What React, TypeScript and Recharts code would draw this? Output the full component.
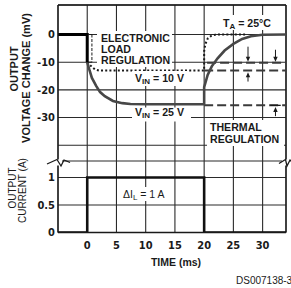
import React from "react"
import { LineChart, Line, XAxis, YAxis, CartesianGrid, ReferenceLine } from "recharts"

// time axis (ms)
const TIME_TICKS = [0, 5, 10, 15, 20, 25, 30]
const MV_TICKS = [-40, -30, -20, -10, 0]
const AMP_TICKS = [0, 0.5, 1]

// output voltage change (mV)
const stepT = [-5, 0, 0]
const stepV = [0, 0, -10]

const vin25T = [0, 0.4, 0.8, 1.5, 2.2, 3, 4.4, 6, 7.4, 10, 20, 20, 20.6, 21.3, 22.3, 23.5, 25, 26.5, 28, 30, 34]
const vin25V = [-10, -13, -15.7, -18.5, -20.8, -22.3, -24, -24.8, -25.1, -25.2, -25.2, -19, -14.6, -11.5, -8.6, -5.8, -3.4, -1.6, -0.6, -0.1, 0]

const vin10T = [0, 0.7, 1.3, 2, 20, 20, 20.2, 20.6, 21.2, 22, 27]
const vin10V = [-10, -11.5, -12.6, -13, -13, -6, -3.5, -1.5, -0.5, 0, 0]

const thermUpT = [20.5, 34]
const thermUpV = [-10.2, -10.2]
const thermMidT = [20, 34]
const thermMidV = [-13, -13]
const thermLowT = [20, 34]
const thermLowV = [-25.6, -25.6]

// output current (A)
const curT = [-5, 0, 0, 20, 20, 34]
const curA = [0, 0, 1, 1, 0, 0]

const zip = (t: number[], v: number[]) => t.map((x, i) => ({ t: x, v: v[i] }))

const X_MIN = -5
const X_MAX = 34
const TOP_MIN = -45.7
const TOP_MAX = 10.66
const BOT_MAX = 1.3

const W = 291
const PLOT_L = 58
const PLOT_R = 286
const TOP_Y0 = 5
const TOP_Y1 = 161
const BOT_Y1 = 232.5

const px = (t: number) => PLOT_L + ((t - X_MIN) / (X_MAX - X_MIN)) * (PLOT_R - PLOT_L)
const py = (v: number) => TOP_Y0 + ((TOP_MAX - v) / (TOP_MAX - TOP_MIN)) * (TOP_Y1 - TOP_Y0)

const INK = "#1a1a1a"
const GRID = "#2a2a2a"
const FONT_LABEL = "'Liberation Sans', Arial, sans-serif"
const FONT_TICK = "'Liberation Sans Narrow', 'DejaVu Sans Condensed', 'Liberation Sans', sans-serif"

const tickStyle = { fontFamily: FONT_TICK, fontSize: 11, fontWeight: 700, fill: INK }

function Arrow({ x, from, to }: { x: number; from: number; to: number }) {
  const dir = to > from ? 1 : -1
  return (
    <g>
      <line x1={x} y1={from} x2={x} y2={to - dir * 3} stroke={INK} strokeWidth={1} />
      <path d={`M${x - 2.2},${to - dir * 5} L${x + 2.2},${to - dir * 5} L${x},${to} Z`} fill={INK} />
    </g>
  )
}

export default function App() {
  const labelProps = { fontFamily: FONT_LABEL, fontWeight: 700, fontSize: 10.6, fill: INK }
  return (
    <div style={{ position: "absolute", left: 0, top: 0, width: W, height: 288, background: "#fff", overflow: "hidden" }}>
      <div style={{ position: "absolute", left: 0, top: 0 }}>
        <LineChart width={W} height={TOP_Y1} margin={{ top: TOP_Y0, right: W - PLOT_R, bottom: 0, left: 0 }}>
          <CartesianGrid stroke={GRID} strokeWidth={1.1} />
          <XAxis type="number" dataKey="t" domain={[X_MIN, X_MAX]} ticks={TIME_TICKS} allowDataOverflow hide />
          <YAxis
            type="number"
            domain={[TOP_MIN, TOP_MAX]}
            ticks={MV_TICKS}
            allowDataOverflow
            width={PLOT_L}
            tickLine={false}
            tickSize={0}
            tickMargin={3}
            axisLine={{ stroke: INK, strokeWidth: 1.3 }}
            tick={tickStyle}
            tickFormatter={(v: number) => (v === -40 ? "" : String(v))}
          />
          <ReferenceLine y={TOP_MAX} stroke={INK} strokeWidth={1.3} />
          <ReferenceLine x={X_MAX} stroke={INK} strokeWidth={1.3} />
          <Line data={zip(thermUpT, thermUpV)} dataKey="v" type="linear" stroke="#3a3a3a" strokeWidth={2} strokeDasharray="9 4" dot={false} isAnimationActive={false} />
          <Line data={zip(thermMidT, thermMidV)} dataKey="v" type="linear" stroke="#3a3a3a" strokeWidth={2} strokeDasharray="9 4" dot={false} isAnimationActive={false} />
          <Line data={zip(thermLowT, thermLowV)} dataKey="v" type="linear" stroke="#3a3a3a" strokeWidth={2} strokeDasharray="9 4" dot={false} isAnimationActive={false} />
          <Line data={zip(vin10T, vin10V)} dataKey="v" type="linear" stroke={INK} strokeWidth={2} strokeDasharray="2 2.2" dot={false} isAnimationActive={false} />
          <Line data={zip(vin25T, vin25V)} dataKey="v" type="linear" stroke="#474747" strokeWidth={2.6} dot={false} isAnimationActive={false} />
          <Line data={zip(stepT, stepV)} dataKey="v" type="linear" stroke="#000" strokeWidth={3} dot={false} isAnimationActive={false} />
        </LineChart>
      </div>
      <div style={{ position: "absolute", left: 0, top: TOP_Y1 }}>
        <LineChart width={W} height={288 - TOP_Y1} margin={{ top: 0, right: W - PLOT_R, bottom: 288 - TOP_Y1 - (BOT_Y1 - TOP_Y1) - 30, left: 0 }}>
          <CartesianGrid stroke={GRID} strokeWidth={1.1} />
          <XAxis
            type="number"
            dataKey="t"
            domain={[X_MIN, X_MAX]}
            ticks={TIME_TICKS}
            allowDataOverflow
            height={30}
            tickLine={false}
            tickSize={0}
            tickMargin={9}
            axisLine={{ stroke: INK, strokeWidth: 1.3 }}
            tick={tickStyle}
          />
          <YAxis
            type="number"
            domain={[0, BOT_MAX]}
            ticks={AMP_TICKS}
            allowDataOverflow
            width={PLOT_L}
            tickLine={false}
            tickSize={0}
            tickMargin={3}
            axisLine={{ stroke: INK, strokeWidth: 1.3 }}
            tick={tickStyle}
          />
          <ReferenceLine x={X_MAX} stroke={INK} strokeWidth={1.3} />
          <Line data={zip(curT, curA)} dataKey="v" type="linear" stroke="#111" strokeWidth={2.6} dot={false} isAnimationActive={false} />
        </LineChart>
      </div>

      <svg width={W} height={288} style={{ position: "absolute", left: 0, top: 0, pointerEvents: "none" }}>
        {/* label backgrounds hide the grid */}
        <rect x={97} y={31} width={75} height={36} fill="#fff" />
        <rect x={132} y={71} width={57} height={15} fill="#fff" />
        <rect x={132} y={107.5} width={59} height={14} fill="#fff" />
        <rect x={220} y={15} width={55} height={15} fill="#fff" />
        <rect x={207} y={120} width={77} height={26} fill="#fff" />
        <rect x={121} y={187} width={53} height={14} fill="#fff" />

        {/* axis breaks */}
        <rect x={54} y={159.5} width={8} height={6} fill="#fff" />
        <rect x={282} y={159.5} width={8} height={6} fill="#fff" />
        <polyline points="47,164 57,159.5 61,166 64,160 70,162.5" fill="none" stroke={INK} strokeWidth={1.3} />
        <polyline points="279,163.5 285.5,159.5 287,166 290,160 292,162" fill="none" stroke={INK} strokeWidth={1.3} />

        {/* electronic load regulation bracket */}
        <line x1={px(0.8)} y1={py(0)} x2={px(0.8)} y2={py(-10)} stroke={INK} strokeWidth={1} strokeDasharray="3 1.5" />
        <line x1={px(0.8) - 4} y1={py(0)} x2={px(0.8)} y2={py(0)} stroke={INK} strokeWidth={1} />
        <line x1={px(0.8) - 4} y1={py(-10)} x2={px(0.8)} y2={py(-10)} stroke={INK} strokeWidth={1} />

        {/* thermal regulation arrows */}
        <Arrow x={px(27.5)} from={py(-4.4)} to={py(-9.8)} />
        <Arrow x={px(27.5)} from={py(-17)} to={py(-13.6)} />
        <Arrow x={px(32.2)} from={py(-5.5)} to={py(-9.8)} />
        <Arrow x={px(32.2)} from={py(-29.5)} to={py(-26.2)} />
        <line x1={px(31.3)} y1={py(-25.6)} x2={px(33.1)} y2={py(-25.6)} stroke={INK} strokeWidth={1.3} />

        <text {...labelProps} x={101} y={42}>ELECTRONIC</text>
        <text {...labelProps} x={101} y={53}>LOAD</text>
        <text {...labelProps} x={101} y={64}>REGULATION</text>

        <text {...labelProps} x={135} y={82}>
          V<tspan fontSize={8} dy={2}>IN</tspan>
          <tspan dy={-2}> = 10 V</tspan>
        </text>
        <text {...labelProps} x={135} y={116}>
          V<tspan fontSize={8} dy={2}>IN</tspan>
          <tspan dy={-2}> = 25 V</tspan>
        </text>
        <text {...labelProps} x={223} y={27}>
          T<tspan fontSize={8} dy={2}>A</tspan>
          <tspan dy={-2}> = 25°C</tspan>
        </text>
        <text {...labelProps} x={210} y={131}>THERMAL</text>
        <text {...labelProps} x={210} y={142.5}>REGULATION</text>

        <text fontFamily={FONT_LABEL} fontSize={10.5} fill={INK} x={123} y={197.5}>
          ΔI<tspan fontSize={8} dy={2}>L</tspan>
          <tspan dy={-2}> = 1 A</tspan>
        </text>

        <text {...labelProps} fontSize={10.5} x={176} y={266} textAnchor="middle">TIME (ms)</text>

        <text {...labelProps} fontSize={11} x={18} y={69} textAnchor="middle" transform="rotate(-90 18 69)">OUTPUT</text>
        <text {...labelProps} fontSize={11} x={30} y={78} textAnchor="middle" transform="rotate(-90 30 78)">VOLTAGE CHANGE (mV)</text>
        <text fontFamily={FONT_LABEL} fontSize={10} fill={INK} x={16} y={188} textAnchor="middle" transform="rotate(-90 16 188)">OUTPUT</text>
        <text fontFamily={FONT_LABEL} fontSize={10} fill={INK} x={26} y={190.5} textAnchor="middle" transform="rotate(-90 26 190.5)">CURRENT (A)</text>

        <text fontFamily={FONT_LABEL} fontSize={10} fill={INK} x={236} y={283.5}>DS007138-3</text>
      </svg>
    </div>
  )
}
